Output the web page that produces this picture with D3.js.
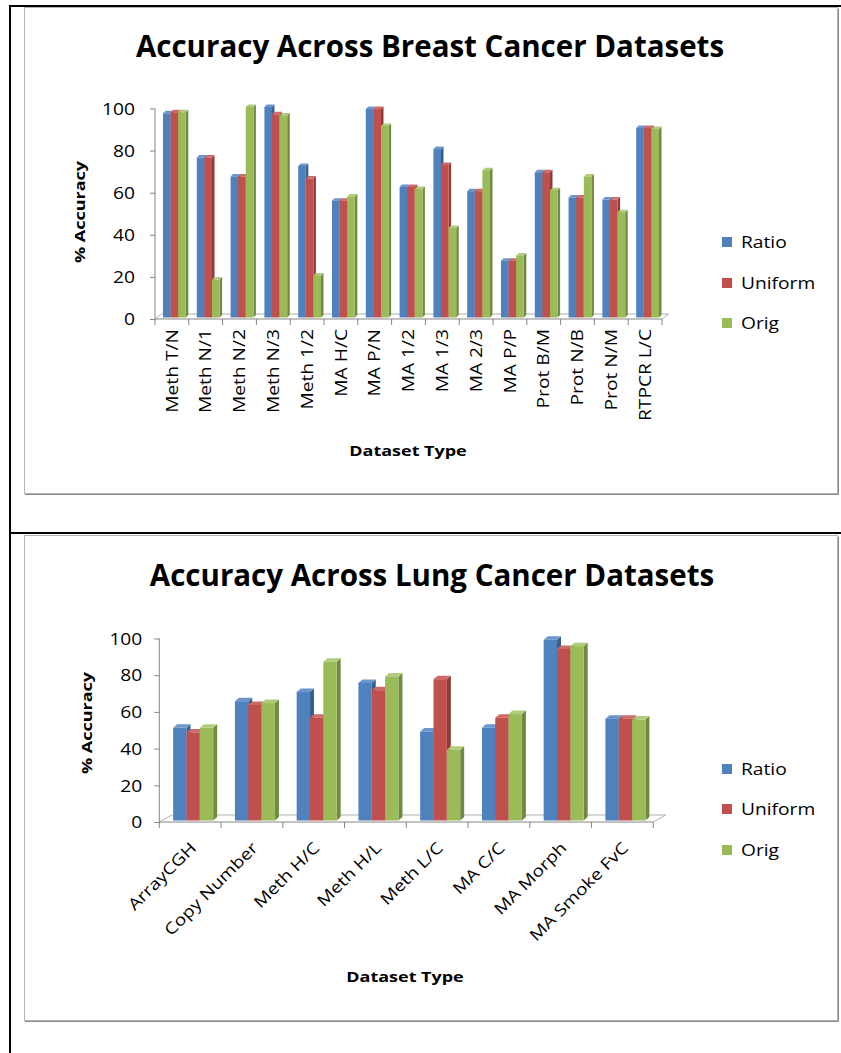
<!DOCTYPE html>
<html>
<head>
<meta charset="utf-8">
<script src="https://cdn.jsdelivr.net/npm/d3@7"></script>
<style>
  html, body { margin: 0; padding: 0; background: #fff; }
  svg { display: block; }
  text { font-family: "Open Sans", "DejaVu Sans", sans-serif; fill: #000; }
</style>
</head>
<body>
<svg id="page" width="841" height="1053"></svg>
<script>
// ---- data ----
const seriesNames = ["Ratio", "Uniform", "Orig"];
const yTicks = [0, 20, 40, 60, 80, 100];

const breastCategories = ["Meth T/N", "Meth N/1", "Meth N/2", "Meth N/3", "Meth 1/2",
  "MA H/C", "MA P/N", "MA 1/2", "MA 1/3", "MA 2/3", "MA P/P", "Prot B/M",
  "Prot N/B", "Prot N/M", "RTPCR L/C"];
const breastRatio   = [97, 76, 67, 100, 72, 55.5, 99, 62, 80, 60, 27, 69, 57, 56, 90];
const breastUniform = [97.5, 76, 67, 96.5, 66, 55.5, 99, 62, 72.5, 60, 27, 69, 57, 56, 90];
const breastOrig    = [97.5, 18, 100, 96, 20, 57.5, 91, 61, 42.5, 70, 29.5, 60.5, 67, 50, 89.5];

const lungCategories = ["ArrayCGH", "Copy Number", "Meth H/C", "Meth H/L", "Meth L/C",
  "MA C/C", "MA Morph", "MA Smoke FvC"];
const lungRatio   = [50.5, 65, 70, 75, 48.5, 50.5, 98.5, 55.5];
const lungUniform = [48, 63, 56, 71, 77, 56, 93.5, 55.5];
const lungOrig    = [50.5, 64, 86.5, 78.5, 38.5, 58, 95, 55];

// ---- styling ----
const faceColors = ["#4F81BD", "#C0504D", "#9BBB59"];
const sideColors = ["#3A5F8C", "#8E3B39", "#718942"];
const topColors  = ["#6A96CC", "#D06A67", "#B0CC78"];
const axisColor = "#868686";
const textStretch = 1.2;   // wide, Calibri-like proportions for the chart text

const svg = d3.select("#page");

// page frame lines
svg.append("rect").attr("x", 9).attr("y", 5).attr("width", 832).attr("height", 2).attr("fill", "#000");
svg.append("rect").attr("x", 9).attr("y", 5).attr("width", 2).attr("height", 1048).attr("fill", "#000");
svg.append("rect").attr("x", 9).attr("y", 532).attr("width", 832).attr("height", 2).attr("fill", "#000");

// place a text at (x, y), optionally rotated, stretched along its baseline
function stretchedText(parent, x, y, str, opts) {
  const t = parent.append("text")
    .attr("transform", `translate(${x},${y}) rotate(${opts.angle || 0}) scale(${opts.stretch || 1},1)`)
    .attr("text-anchor", opts.anchor || "start")
    .attr("dy", opts.dy || "0.35em")
    .style("font-size", opts.size + "px")
    .text(str);
  if (opts.bold) t.style("font-weight", "bold");
  return t;
}

function drawChart(cfg) {
  const g = svg.append("g");

  // chart area border with a slight shadow on the bottom / right
  g.append("rect")
    .attr("x", cfg.box[0] + 0.5).attr("y", cfg.box[1] + 0.5)
    .attr("width", cfg.box[2]).attr("height", cfg.box[3])
    .attr("fill", "#fff").attr("stroke", "#b4b4b4");
  g.append("path")
    .attr("d", `M${cfg.box[0] + cfg.box[2] + 1.5},${cfg.box[1] + 2} V${cfg.box[1] + cfg.box[3] + 1.5} H${cfg.box[0] + 1}`)
    .attr("fill", "none").attr("stroke", "#8a8a8a").attr("stroke-width", 1);

  // title
  stretchedText(g, cfg.titlePos[0], cfg.titlePos[1], cfg.title,
    { anchor: "middle", size: cfg.titleSize, bold: true, stretch: cfg.titleStretch, dy: "0" });

  const x = d3.scaleBand().domain(cfg.categories).range([cfg.xLeft, cfg.xRight]).paddingInner(0).paddingOuter(0);
  const y = d3.scaleLinear().domain([0, 100]).range([cfg.y0, cfg.y100]);
  const groupW = x.bandwidth() * cfg.groupFrac;
  const inner = d3.scaleBand().domain(seriesNames).range([0, groupW]);
  const [fdx, fdy] = cfg.floorDepth;
  const [bdx, bdy] = cfg.barDepth;
  const [sx, sy] = cfg.barShift;

  // floor
  const y0 = y(0);
  g.append("path")
    .attr("d", `M${cfg.xLeft},${y0} L${cfg.xLeft + fdx},${y0 + fdy} H${cfg.xRight + fdx} L${cfg.xRight},${y0}`)
    .attr("fill", "none").attr("stroke", "#b0b0b0").attr("stroke-width", 1);

  // bars (front face, right side, top)
  const series = [cfg.ratio, cfg.uniform, cfg.orig];
  const bars = g.append("g");
  cfg.categories.forEach((c, i) => {
    const gx = x(c) + (x.bandwidth() - groupW) / 2 + sx;
    series.forEach((vals, s) => {
      const bx = gx + inner(seriesNames[s]);
      const bw = inner.bandwidth();
      const top = y(vals[i]) + sy;
      const base = y0 + sy;
      bars.append("path")
        .attr("d", `M${bx + bw},${top} L${bx + bw + bdx},${top + bdy} V${base + bdy} L${bx + bw},${base} Z`)
        .attr("fill", sideColors[s]);
      bars.append("path")
        .attr("d", `M${bx},${top} L${bx + bdx},${top + bdy} H${bx + bw + bdx} L${bx + bw},${top} Z`)
        .attr("fill", topColors[s]);
      bars.append("rect")
        .attr("x", bx).attr("y", top)
        .attr("width", bw).attr("height", base - top)
        .attr("fill", faceColors[s]);
    });
  });

  // front floor edge (category axis) with ticks at category boundaries
  const xg = g.append("g").attr("transform", `translate(0,${y0})`);
  xg.append("path").attr("d", `M${cfg.xLeft},0H${cfg.xRight}`)
    .attr("stroke", axisColor).attr("fill", "none");
  const bounds = cfg.categories.map(c => x(c)).concat([cfg.xRight]);
  xg.selectAll("line.b").data(bounds).enter().append("line")
    .attr("x1", d => d).attr("x2", d => d).attr("y1", 0).attr("y2", cfg.tickLen)
    .attr("stroke", axisColor);

  // value axis
  const yAxis = d3.axisLeft(y).tickValues(yTicks).tickSize(5).tickPadding(cfg.yLabelPad);
  const yg = g.append("g").attr("transform", `translate(${cfg.xLeft},0)`).call(yAxis);
  yg.select(".domain").attr("stroke", axisColor).attr("d", `M0,${y0}V${y(100)}`);
  yg.selectAll(".tick line").attr("stroke", axisColor);
  yg.selectAll(".tick text")
    .attr("x", 0)
    .attr("transform", `translate(${-cfg.yLabelPad},0) scale(${textStretch},1)`)
    .style("font-size", cfg.labelSize + "px").style("font-family", '"Open Sans", sans-serif')
    .attr("fill", "#000").attr("dy", "0.36em");

  // category labels
  cfg.categories.forEach(c => {
    const cx = x(c) + x.bandwidth() / 2;
    stretchedText(g, cx + cfg.labelOffset[0], y0 + cfg.labelOffset[1], c,
      { anchor: "end", angle: cfg.labelAngle, size: cfg.labelSize, stretch: textStretch });
  });

  // axis titles
  stretchedText(g, cfg.xTitlePos[0], cfg.xTitlePos[1], "Dataset Type",
    { anchor: "middle", size: cfg.axisTitleSize, bold: true, stretch: textStretch });
  stretchedText(g, cfg.yTitlePos[0], cfg.yTitlePos[1], "% Accuracy",
    { anchor: "middle", angle: -90, size: cfg.axisTitleSize, bold: true, stretch: textStretch });

  // legend
  const lg = g.append("g");
  seriesNames.forEach((n, s) => {
    const ly = cfg.legendY[s];
    lg.append("rect").attr("x", cfg.legendX).attr("y", ly - 5)
      .attr("width", 10).attr("height", 10).attr("fill", faceColors[s]);
    stretchedText(lg, cfg.legendX + 19, ly, n, { size: cfg.labelSize, stretch: textStretch });
  });
}

drawChart({
  box: [24, 7, 813, 486],
  title: "Accuracy Across Breast Cancer Datasets",
  titlePos: [430, 57], titleSize: 29.5, titleStretch: 1,
  categories: breastCategories,
  ratio: breastRatio, uniform: breastUniform, orig: breastOrig,
  xLeft: 155, xRight: 662, y0: 319, y100: 108.5,
  groupFrac: 0.675, floorDepth: [6.5, -5], barDepth: [2.5, -2.5], barShift: [2.5, -1.5],
  tickLen: 6, yLabelPad: 20,
  labelAngle: -90, labelOffset: [0, 10],
  labelSize: 16, axisTitleSize: 15,
  xTitlePos: [408, 451], yTitlePos: [80, 212],
  legendX: 722, legendY: [242, 283, 323]
});

drawChart({
  box: [24, 535, 813, 485],
  title: "Accuracy Across Lung Cancer Datasets",
  titlePos: [432, 586], titleSize: 29.5, titleStretch: 1,
  categories: lungCategories,
  ratio: lungRatio, uniform: lungUniform, orig: lungOrig,
  xLeft: 159.3, xRight: 653.3, y0: 822, y100: 638.5,
  groupFrac: 0.648, floorDepth: [12.5, -7], barDepth: [4, -3.5], barShift: [3, -1.5],
  tickLen: 6, yLabelPad: 17,
  labelAngle: -45, labelOffset: [3, 23],
  labelSize: 16, axisTitleSize: 15,
  xTitlePos: [405, 977], yTitlePos: [87, 723],
  legendX: 722, legendY: [769, 809, 850]
});
</script>
</body>
</html>
